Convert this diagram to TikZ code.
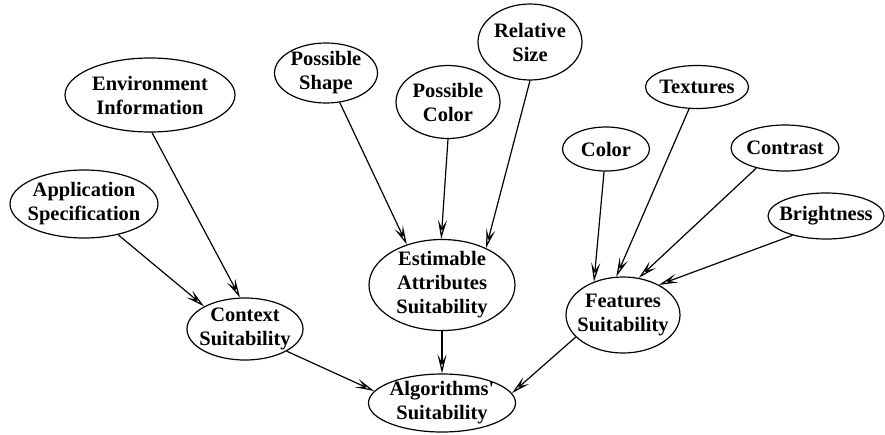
\documentclass[tikz,border=0pt]{standalone}
\usepackage{fontspec}
\setmainfont{Liberation Serif}
\usetikzlibrary{shapes.geometric,arrows.meta}
\begin{document}
\begin{tikzpicture}[x=1pt,y=-1pt,
  ell/.style n args={2}{ellipse, draw, line width=1.2pt,
    minimum width=#1, minimum height=#2, inner xsep=-8pt, inner ysep=-4pt,
    align=center, font=\bfseries\fontsize{20.5}{24}\selectfont},
  link/.style={line width=1.2pt, -{Stealth[open,length=19pt,width=9pt,inset=8pt]}}]
\useasboundingbox (0,0) rectangle (885,434);

% context branch
\node[ell={170}{74}] (env) at (150,95) {Environment\\Information};
\node[ell={148}{68}] (app) at (84,204) {Application\\Specification};
\node[ell={116}{62}] (ctx) at (245,329) {Context\\Suitability};

% estimable attributes branch
\node[ell={103}{60}] (shape) at (326,73) {Possible\\Shape};
\node[ell={104}{73}] (pcol) at (448,102) {Possible\\Color};
\node[ell={104}{76}] (rsize) at (530,42) {Relative\\Size};
\node[ell={146}{91}] (eas) at (442,285) {Estimable\\Attributes\\Suitability};

% features branch
\node[ell={103}{43}] (tex) at (697,87) {Textures};
\node[ell={87}{44}] (col) at (606,149) {Color};
\node[ell={108}{46}] (con) at (785,148) {Contrast};
\node[ell={116}{46}] (bri) at (826,216) {Brightness};
\node[ell={114}{76}] (feat) at (623,315) {Features\\Suitability};

% result
\node[ell={147}{58}] (alg) at (442,403) {Algorithms\textquotesingle\\Suitability};

\draw[link] (env.-87) -- (ctx.99);
\draw[link] (app.-42) -- (ctx.151);
\draw[link] (shape.-65) -- (eas.131);
\draw[link] (pcol.-90) -- (eas.91);
\draw[link] (rsize.-90) -- (eas.40);
\draw[link] (col.-95) -- (feat.131);
\draw[link] (tex.-110) -- (feat.100);
\draw[link] (con.-145) -- (feat.67);
\draw[link] (bri.-150) -- (feat.40);
\draw[link] (ctx.-28) -- (alg.170);
\draw[link] (eas.-90) -- (alg.90);
\draw[link] (feat.-155) -- (alg.8);
\end{tikzpicture}
\end{document}
